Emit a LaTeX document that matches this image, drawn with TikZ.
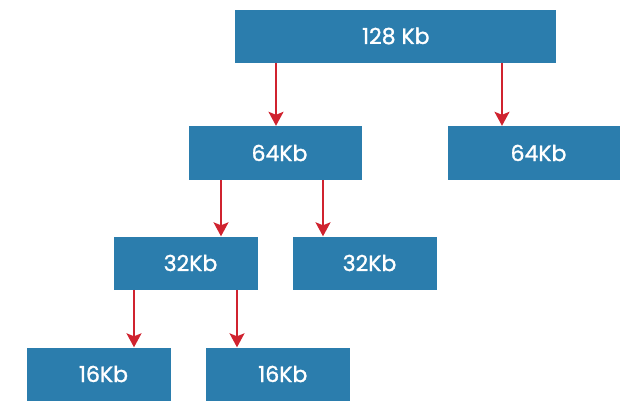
\documentclass[tikz,border=0pt]{standalone}
\usepackage{fontspec}
\setmainfont{Poppins}
\newfontfamily\blockfont{Poppins}[RawFeature={embolden=1.3}]
\usetikzlibrary{arrows.meta}
\definecolor{boxblue}{HTML}{2B7DAD}
\definecolor{arrred}{HTML}{D0232F}
\tikzset{
  blk/.style={fill=boxblue, text=white, inner sep=0pt, minimum height=53pt,
    font=\blockfont\fontsize{22}{26}\selectfont},
  shifted/.style={execute at begin node=\hspace*{9pt}},
  arr/.style={draw=arrred, line width=1.8pt,
    -{Stealth[length=14pt, width=15pt, inset=3pt]}}
}
\begin{document}
\begin{tikzpicture}[x=1pt, y=-1pt]
  \useasboundingbox (0,0) rectangle (624,400);
  \clip (0,0) rectangle (624,400);
  % blocks, level by level
  \node[blk, minimum width=321pt] (top) at (395.8,36) {128 Kb};
  \node[blk, shifted, minimum width=173pt, minimum height=54pt] (m1) at (275,153) {64Kb};
  \node[blk, shifted, minimum width=172pt, minimum height=54pt] (m2) at (534,153) {64Kb};
  \node[blk, shifted, minimum width=144pt] (s1) at (186,263) {32Kb};
  \node[blk, shifted, minimum width=144pt] (s2) at (365,263) {32Kb};
  \node[blk, shifted, minimum width=144pt] (b1) at (99,374) {16Kb};
  \node[blk, shifted, minimum width=144pt] (b2) at (278.3,374) {16Kb};
  % x positions of the arrows
  \coordinate (xa) at (276,0);
  \coordinate (xb) at (502,0);
  \coordinate (xc) at (221,0);
  \coordinate (xd) at (323,0);
  \coordinate (xe) at (134,0);
  \coordinate (xf) at (237,0);
  \draw[arr] (top.south -| xa) -- (m1.north -| xa);
  \draw[arr] (top.south -| xb) -- (m2.north -| xb);
  \draw[arr] (m1.south -| xc) -- (s1.north -| xc);
  \draw[arr] (m1.south -| xd) -- (s2.north -| xd);
  \draw[arr] (s1.south -| xe) -- (b1.north -| xe);
  \draw[arr] (s1.south -| xf) -- (b2.north -| xf);
\end{tikzpicture}
\end{document}
